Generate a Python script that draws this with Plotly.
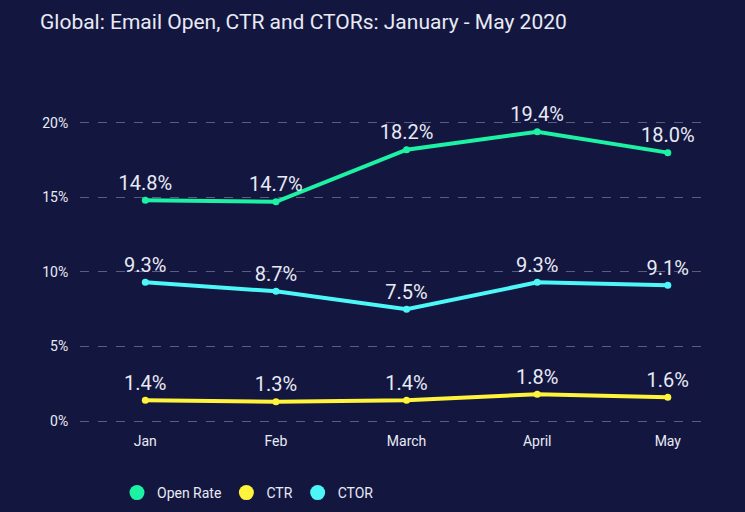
import plotly.graph_objects as go

months = ["Jan", "Feb", "March", "April", "May"]
open_rate = [14.8, 14.7, 18.2, 19.4, 18.0]
ctr = [1.4, 1.3, 1.4, 1.8, 1.6]
ctor = [9.3, 8.7, 7.5, 9.3, 9.1]
y_ticks = [0, 5, 10, 15, 20]
y_tick_labels = ["0%", "5%", "10%", "15%", "20%"]

BG = "#131740"
GREEN = "#1DF2A4"
YELLOW = "#FFF33B"
CYAN = "#4DF7F7"
TXT = "#E8EAF4"
FONT = "Roboto"

fig = go.Figure()
for name, vals, col in [("Open Rate", open_rate, GREEN), ("CTR", ctr, YELLOW), ("CTOR", ctor, CYAN)]:
    fig.add_trace(go.Scatter(
        x=months, y=vals, mode="lines+markers+text", name=name,
        line=dict(color=col, width=4), marker=dict(color=col, size=7),
        text=[f"{v:.1f}%" for v in vals], textposition="top center",
        textfont=dict(color=TXT, size=20, family=FONT),
        showlegend=False, hoverinfo="skip",
    ))
for name, col in [("Open Rate", GREEN), ("CTR", YELLOW), ("CTOR", CYAN)]:
    fig.add_trace(go.Scatter(
        x=[None], y=[None], mode="markers", name=name,
        marker=dict(color=col, size=15), showlegend=True,
    ))

fig.update_layout(
    width=745, height=512,
    paper_bgcolor=BG, plot_bgcolor=BG,
    margin=dict(l=80, r=38, t=93, b=88),
    title=dict(text="Global: Email Open, CTR and CTORs: January - May 2020",
               x=40/745, xanchor="left", y=1-22/512, yanchor="middle",
               font=dict(color=TXT, size=21, family=FONT)),
    xaxis=dict(range=[-0.5, 4.3], showgrid=False, zeroline=False, showline=False,
               tickfont=dict(color=TXT, size=14, family=FONT),
               ticks="outside", ticklen=4, tickcolor="rgba(0,0,0,0)"),
    yaxis=dict(range=[-0.2, 22], tickvals=y_ticks, ticktext=y_tick_labels,
               showgrid=True, gridcolor="#5A5E7E", griddash="dash", gridwidth=1,
               zeroline=False, showline=False,
               ticks="outside", ticklen=8, tickcolor="rgba(0,0,0,0)",
               tickfont=dict(color=TXT, size=14, family=FONT)),
    legend=dict(orientation="h", xref="container", yref="container",
                x=117/745, xanchor="left", y=1-493/512, yanchor="middle",
                font=dict(color=TXT, size=14, family=FONT),
                bgcolor="rgba(0,0,0,0)"),
)

fig.write_html("out.html", config={"displayModeBar": False},
               post_script="document.body.style.margin='0';")
